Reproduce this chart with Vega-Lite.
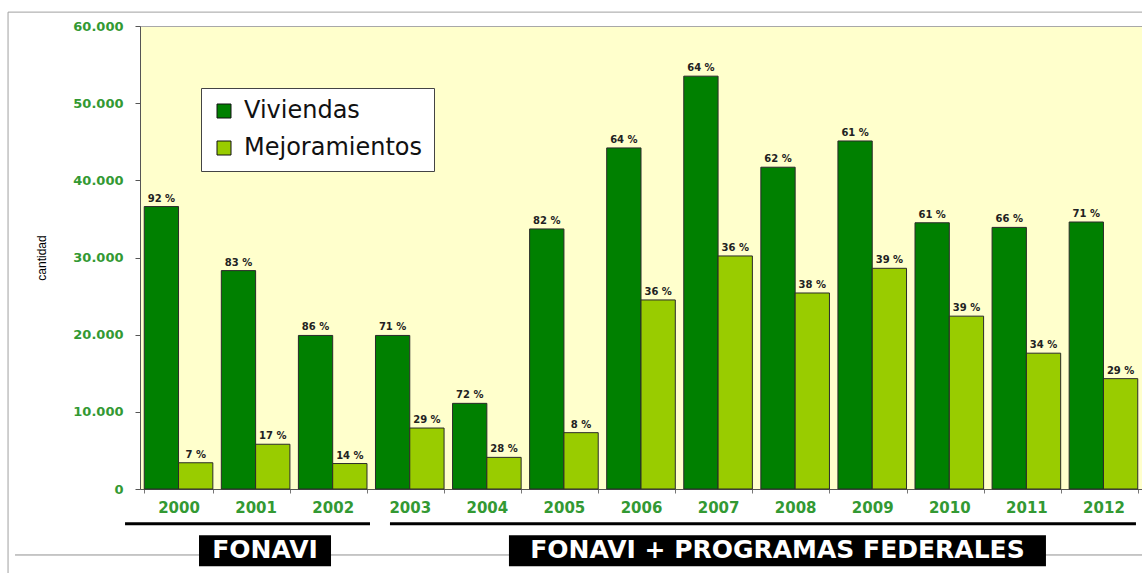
{
  "$schema": "https://vega.github.io/schema/vega-lite/v6.json",
  "width": 1002,
  "height": 463,
  "autosize": {"type": "none"},
  "padding": {"left": 140, "top": 26, "right": 0, "bottom": 84},
  "background": "white",
  "config": {
    "view": {"fill": "#ffffcc", "stroke": "#a8a8a8"},
    "axis": {"grid": false},
    "font": "DejaVu Sans"
  },
  "datasets": {
    "bars": [
      {"year": "2000", "serie": "Viviendas", "value": 36600, "pct": "92 %"},
      {"year": "2000", "serie": "Mejoramientos", "value": 3400, "pct": "7 %"},
      {"year": "2001", "serie": "Viviendas", "value": 28300, "pct": "83 %"},
      {"year": "2001", "serie": "Mejoramientos", "value": 5800, "pct": "17 %"},
      {"year": "2002", "serie": "Viviendas", "value": 19900, "pct": "86 %"},
      {"year": "2002", "serie": "Mejoramientos", "value": 3300, "pct": "14 %"},
      {"year": "2003", "serie": "Viviendas", "value": 19900, "pct": "71 %"},
      {"year": "2003", "serie": "Mejoramientos", "value": 7900, "pct": "29 %"},
      {"year": "2004", "serie": "Viviendas", "value": 11100, "pct": "72 %"},
      {"year": "2004", "serie": "Mejoramientos", "value": 4100, "pct": "28 %"},
      {"year": "2005", "serie": "Viviendas", "value": 33700, "pct": "82 %"},
      {"year": "2005", "serie": "Mejoramientos", "value": 7300, "pct": "8 %"},
      {"year": "2006", "serie": "Viviendas", "value": 44200, "pct": "64 %"},
      {"year": "2006", "serie": "Mejoramientos", "value": 24500, "pct": "36 %"},
      {"year": "2007", "serie": "Viviendas", "value": 53500, "pct": "64 %"},
      {"year": "2007", "serie": "Mejoramientos", "value": 30200, "pct": "36 %"},
      {"year": "2008", "serie": "Viviendas", "value": 41700, "pct": "62 %"},
      {"year": "2008", "serie": "Mejoramientos", "value": 25400, "pct": "38 %"},
      {"year": "2009", "serie": "Viviendas", "value": 45100, "pct": "61 %"},
      {"year": "2009", "serie": "Mejoramientos", "value": 28600, "pct": "39 %"},
      {"year": "2010", "serie": "Viviendas", "value": 34500, "pct": "61 %"},
      {"year": "2010", "serie": "Mejoramientos", "value": 22400, "pct": "39 %"},
      {"year": "2011", "serie": "Viviendas", "value": 33900, "pct": "66 %"},
      {"year": "2011", "serie": "Mejoramientos", "value": 17600, "pct": "34 %"},
      {"year": "2012", "serie": "Viviendas", "value": 34600, "pct": "71 %"},
      {"year": "2012", "serie": "Mejoramientos", "value": 14300, "pct": "29 %"}
    ],
    "fonavi": [{"t": "FONAVI"}],
    "federal": [{"t": "FONAVI + PROGRAMAS FEDERALES"}],
    "frame": [{"t": "frame"}]
  },
  "layer": [
    {
      "data": {"name": "bars"},
      "mark": {"type": "bar", "stroke": "#2a2a2a", "strokeWidth": 1},
      "encoding": {
        "x": {
          "field": "year", "type": "nominal",
          "scale": {"paddingInner": 0.11, "paddingOuter": 0.055},
          "title": null,
          "axis": {
            "labelAngle": 0, "labelFont": "DejaVu Sans", "labelFontSize": 15,
            "labelFontWeight": "bold", "labelColor": "#339933", "labelPadding": 7,
            "tickBand": "extent", "tickSize": 4, "tickColor": "#777", "domainColor": "#555"
          }
        },
        "xOffset": {
          "field": "serie", "type": "nominal", "sort": ["Viviendas", "Mejoramientos"],
          "scale": {"paddingInner": 0, "paddingOuter": 0}
        },
        "y": {
          "field": "value", "type": "quantitative",
          "scale": {"domain": [0, 60000], "nice": false},
          "title": "cantidad",
          "axis": {
            "values": [0, 10000, 20000, 30000, 40000, 50000, 60000],
            "labelExpr": "replace(format(datum.value, ','), ',', '.')",
            "labelFont": "DejaVu Sans", "labelFontSize": 13, "labelFontWeight": "bold",
            "labelColor": "#339933", "labelPadding": 12, "tickSize": 5,
            "tickColor": "#555", "domainColor": "#555",
            "titleFont": "Liberation Sans", "titleFontSize": 12,
            "titleFontWeight": "normal", "titleColor": "black", "titlePadding": 24
          }
        },
        "color": {
          "field": "serie", "type": "nominal", "sort": ["Viviendas", "Mejoramientos"],
          "scale": {"domain": ["Viviendas", "Mejoramientos"], "range": ["#008000", "#99cc00"]},
          "legend": {
            "orient": "none", "legendX": 61, "legendY": 62, "title": null,
            "fillColor": "white", "strokeColor": "#444", "padding": 11,
            "symbolType": "square", "symbolSize": 196, "symbolStrokeColor": "#111",
            "symbolStrokeWidth": 1, "labelFontSize": 24, "labelFont": "DejaVu Sans",
            "labelColor": "#111", "rowPadding": 13, "labelOffset": 8, "labelLimit": 0
          }
        }
      }
    },
    {
      "data": {"name": "bars"},
      "mark": {"type": "text", "baseline": "bottom", "dy": -3, "fontSize": 10, "fontWeight": "bold", "font": "DejaVu Sans", "color": "#222"},
      "encoding": {
        "x": {"field": "year", "type": "nominal"},
        "xOffset": {"field": "serie", "type": "nominal", "sort": ["Viviendas", "Mejoramientos"]},
        "y": {"field": "value", "type": "quantitative"},
        "text": {"field": "pct"}
      }
    },
    {
      "data": {"name": "frame"},
      "mark": {"type": "rule", "color": "#a0a0a0", "strokeWidth": 1, "xOffset": -170.5, "x2Offset": 40},
      "encoding": {
        "x": {"datum": "2000", "type": "nominal", "bandPosition": 0.5},
        "x2": {"datum": "2012"},
        "y": {"datum": 61800, "type": "quantitative"}
      }
    },
    {
      "data": {"name": "frame"},
      "mark": {"type": "rule", "color": "#a0a0a0", "strokeWidth": 1, "xOffset": -170.5},
      "encoding": {
        "x": {"datum": "2000", "type": "nominal", "bandPosition": 0.5},
        "y": {"datum": 61800, "type": "quantitative"},
        "y2": {"datum": -11000}
      }
    },
    {
      "data": {"name": "frame"},
      "mark": {"type": "rule", "color": "#909090", "strokeWidth": 1, "xOffset": -163.5, "x2Offset": 40},
      "encoding": {
        "x": {"datum": "2000", "type": "nominal", "bandPosition": 0.5},
        "x2": {"datum": "2012"},
        "y": {"datum": -8550, "type": "quantitative"}
      }
    },
    {
      "data": {"name": "fonavi"},
      "mark": {"type": "rule", "color": "black", "strokeWidth": 3, "xOffset": -53.5, "x2Offset": 37.3},
      "encoding": {
        "x": {"datum": "2000", "type": "nominal", "bandPosition": 0.5},
        "x2": {"datum": "2002"},
        "y": {"datum": -4500, "type": "quantitative"}
      }
    },
    {
      "data": {"name": "federal"},
      "mark": {"type": "rule", "color": "black", "strokeWidth": 3, "xOffset": -19.8, "x2Offset": 32.5},
      "encoding": {
        "x": {"datum": "2003", "type": "nominal", "bandPosition": 0.5},
        "x2": {"datum": "2012"},
        "y": {"datum": -4500, "type": "quantitative"}
      }
    },
    {
      "data": {"name": "fonavi"},
      "mark": {"type": "rect", "color": "black", "xOffset": -56.6, "x2Offset": 75.4},
      "encoding": {
        "x": {"datum": "2001", "type": "nominal", "bandPosition": 0.5},
        "x2": {"datum": "2001"},
        "y": {"datum": -6000, "type": "quantitative"},
        "y2": {"datum": -10000}
      }
    },
    {
      "data": {"name": "federal"},
      "mark": {"type": "rect", "color": "black", "xOffset": -286.2, "x2Offset": 250.8},
      "encoding": {
        "x": {"datum": "2008", "type": "nominal", "bandPosition": 0.5},
        "x2": {"datum": "2008"},
        "y": {"datum": -6000, "type": "quantitative"},
        "y2": {"datum": -10000}
      }
    },
    {
      "data": {"name": "fonavi"},
      "mark": {"type": "text", "color": "white", "font": "DejaVu Sans", "fontSize": 25, "fontWeight": "bold", "baseline": "middle", "align": "center", "xOffset": 9.4},
      "encoding": {
        "x": {"datum": "2001", "type": "nominal", "bandPosition": 0.5},
        "y": {"datum": -7900, "type": "quantitative"},
        "text": {"field": "t"}
      }
    },
    {
      "data": {"name": "federal"},
      "mark": {"type": "text", "color": "white", "font": "DejaVu Sans", "fontSize": 25, "fontWeight": "bold", "baseline": "middle", "align": "center", "xOffset": -17.7},
      "encoding": {
        "x": {"datum": "2008", "type": "nominal", "bandPosition": 0.5},
        "y": {"datum": -7900, "type": "quantitative"},
        "text": {"field": "t"}
      }
    }
  ]
}
